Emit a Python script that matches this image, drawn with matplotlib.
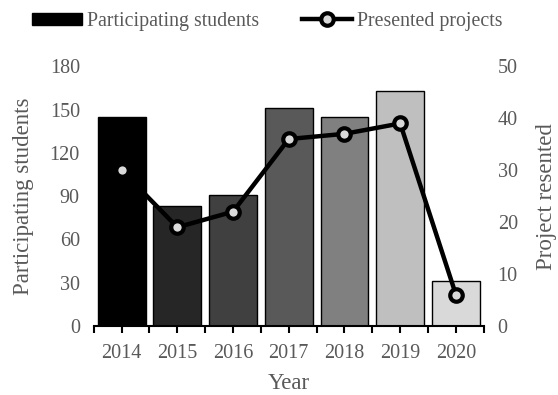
import matplotlib
matplotlib.use("Agg")
import matplotlib.pyplot as plt
from matplotlib.ticker import FixedLocator
from matplotlib.patches import Patch
import numpy as np

years = ["2014", "2015", "2016", "2017", "2018", "2019", "2020"]
students = [145, 83, 91, 151, 145, 163, 31]
projects = [30, 19, 22, 36, 37, 39, 6]
bar_colors = ["#000000", "#262626", "#404040", "#595959", "#808080", "#bfbfbf", "#d9d9d9"]

plt.rcParams['font.family'] = ['Liberation Serif', 'DejaVu Serif']
txt = "#595959"

fig = plt.figure(figsize=(5.58, 3.95), dpi=100)
ax = fig.add_axes([0.168, 0.175, 0.699, 0.657])
x = np.arange(len(years))
ax.bar(x, students, width=0.86, color=bar_colors, edgecolor="black", linewidth=1.0, zorder=2)
ax.set_xlim(-0.5, len(years) - 0.5)
ax.set_ylim(0, 180)
ax.set_yticks([0, 30, 60, 90, 120, 150, 180])
ax.set_xticks(x)
ax.set_xticklabels(years)
ax.xaxis.set_minor_locator(FixedLocator(np.arange(-0.5, len(years), 1.0)))
for s in ["top", "left", "right"]:
    ax.spines[s].set_visible(False)
ax.spines["bottom"].set_linewidth(1.5)
ax.tick_params(axis="x", which="both", direction="out", length=5, width=1.5, colors="black",
               labelcolor=txt, labelsize=14.5, pad=8)
ax.tick_params(axis="y", length=0, labelcolor=txt, labelsize=14.5, pad=10)
ax.set_xlabel("Year", color=txt, fontsize=16.5)
ax.xaxis.label.set_va("center")
ax.xaxis.set_label_coords(0.5, -0.222)
ax.set_ylabel("Participating students", color=txt, fontsize=16.5)
ax.yaxis.label.set_va("center")
ax.yaxis.label.set_ha("center")
ax.yaxis.set_label_coords(-0.179, 0.5)

ax2 = ax.twinx()
ax2.set_ylim(0, 50)
ax2.set_yticks([0, 10, 20, 30, 40, 50])
for s in ["top", "left", "right", "bottom"]:
    ax2.spines[s].set_visible(False)
ax2.tick_params(axis="y", length=0, labelcolor=txt, labelsize=14.5, pad=10)
ax2.set_ylabel("Project resented", color=txt, fontsize=16.5)
ax2.yaxis.label.set_va("center")
ax2.yaxis.label.set_ha("center")
ax2.yaxis.set_label_coords(1.161, 0.5)
line, = ax2.plot(x, projects, color="black", linewidth=3.2, marker="o", markersize=9,
                 markerfacecolor="#d9d9d9", markeredgecolor="black", markeredgewidth=3, zorder=3)

fig.legend([Patch(facecolor="black", edgecolor="black"), line],
           ["Participating students", "Presented projects"],
           loc="upper center", bbox_to_anchor=(0.479, 1.015), ncol=2, frameon=False,
           fontsize=14.3, labelcolor=txt, handlelength=2.5, handletextpad=0.25, columnspacing=2.2,
           handleheight=0.6)

fig.savefig("out.png", dpi=100)
